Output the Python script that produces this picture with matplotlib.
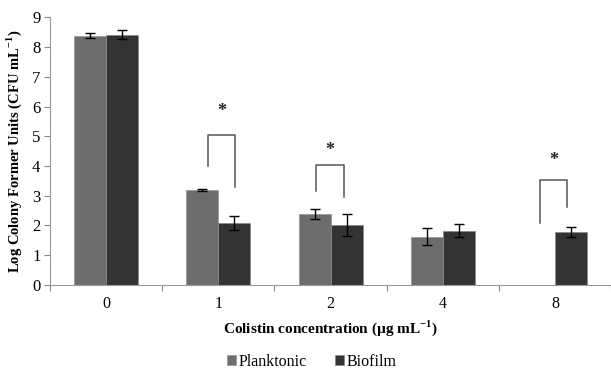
import numpy as np
import matplotlib
matplotlib.use("Agg")
import matplotlib.pyplot as plt

plt.rcParams['font.family'] = ['Liberation Serif', 'DejaVu Serif']
plt.rcParams['mathtext.fontset'] = 'custom'
plt.rcParams['mathtext.rm'] = 'Liberation Serif'
plt.rcParams['mathtext.bf'] = 'Liberation Serif:bold'
plt.rcParams['axes.unicode_minus'] = False

# colistin concentrations (ug/mL)
concentrations = ["0", "1", "2", "4", "8"]
planktonic = [8.38, 3.20, 2.38, 1.62, 0.0]
planktonic_err = [0.08, 0.03, 0.16, 0.28, 0.0]
biofilm = [8.42, 2.09, 2.00, 1.83, 1.77]
biofilm_err = [0.15, 0.23, 0.37, 0.21, 0.17]

# significance brackets: (left x, left bottom, top, right x, right bottom, star y)
brackets = [
    (0.91, 4.00, 5.04, 1.15, 3.28, 5.83),
    (1.87, 3.17, 4.02, 2.12, 2.97, 4.51),
    (3.87, 2.07, 3.53, 4.11, 2.63, 4.20),
]

fig = plt.figure(figsize=(6.11, 3.70), dpi=100)
ax = fig.add_axes([0.082, 0.23, 0.918, 0.723])

x = np.arange(len(concentrations))
w = 0.285
ax.bar(x - w/2, planktonic, w, color='#6d6d6d', edgecolor='#9a9a9a', linewidth=0.6,
       label='Planktonic', zorder=2)
ax.bar(x + w/2, biofilm, w, color='#333333', edgecolor='#8a8a8a', linewidth=0.6,
       label='Biofilm', zorder=2)
pm = np.array(planktonic) > 0
ax.errorbar((x - w/2)[pm], np.array(planktonic)[pm], yerr=np.array(planktonic_err)[pm],
            fmt='none', ecolor='black', elinewidth=1, capsize=3.5, capthick=1, zorder=3)
ax.errorbar(x + w/2, biofilm, yerr=biofilm_err,
            fmt='none', ecolor='black', elinewidth=1, capsize=3.5, capthick=1, zorder=3)

for x1, y1, top, x2, y2, ys in brackets:
    ax.plot([x1, x1, x2, x2], [y1, top, top, y2], color='#555555', lw=1.1, zorder=3)
    ax.text((x1 + x2) / 2, ys, '*', ha='center', va='center', fontsize=13,
            fontweight='bold', color='#222222')

ax.set_xlim(-0.5, 4.49)
ax.set_ylim(0, 9)
ax.set_yticks(range(10))
ax.tick_params(axis='y', labelsize=12, length=4, color='#888888', pad=3)
ax.set_xticks(np.arange(-0.5, 5, 1))
ax.set_xticklabels([])
ax.tick_params(axis='x', length=4, color='#888888')
for i, c in enumerate(concentrations):
    ax.text(i, -0.38, c, ha='center', va='top', fontsize=11.5)

for s in ['top', 'right']:
    ax.spines[s].set_visible(False)
for s in ['left', 'bottom']:
    ax.spines[s].set_color('#999999')

ax.set_ylabel('Log Colony Former Units (CFU mL$^{\\mathbf{-1}}$)', fontsize=10.5,
              fontweight='bold', labelpad=6)
ax.text(0.5, -0.16, 'Colistin concentration (\u00b5g mL$^{\\mathbf{-1}}$)', ha='center',
        va='center', fontsize=11, fontweight='bold', transform=ax.transAxes)

fig.legend(loc='center', bbox_to_anchor=(0.51, 0.022), ncol=2, frameon=False,
           prop={'family': 'Liberation Serif', 'size': 11.5},
           handlelength=0.55, handleheight=0.55, handletextpad=0.15, columnspacing=1.8)

fig.savefig('out.png', dpi=100)
